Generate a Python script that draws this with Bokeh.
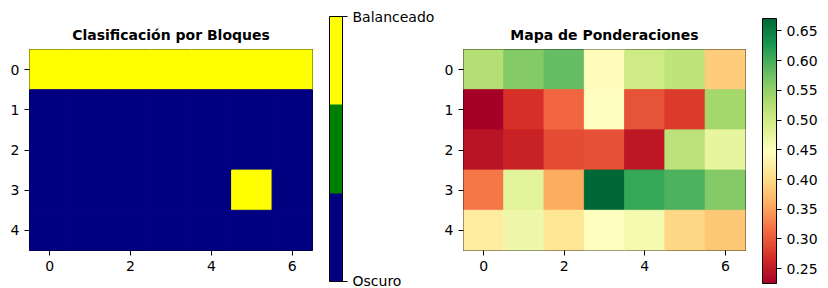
import numpy as np
from bokeh.plotting import figure
from bokeh.layouts import row
from bokeh.models import (Range1d, LinearColorMapper, FixedTicker, ColumnDataSource,
                          PrintfTickFormatter, Label, ColorBar)
from bokeh.transform import transform
from bokeh.embed import file_html
from bokeh.resources import INLINE

# ---------------- data ----------------
cols = [0, 1, 2, 3, 4, 5, 6]
rows = [0, 1, 2, 3, 4]
x_ticks = [0, 2, 4, 6]
y_ticks = [0, 1, 2, 3, 4]

block_classes = [
    [2, 2, 2, 2, 2, 2, 2],
    [0, 0, 0, 0, 0, 0, 0],
    [0, 0, 0, 0, 0, 0, 0],
    [0, 0, 0, 0, 0, 2, 0],
    [0, 0, 0, 0, 0, 0, 0],
]
class_values = [0, 1, 2]
class_colors = ["#000080", "#008000", "#ffff00"]
class_tick_values = [0, 2]
class_tick_labels = ["Oscuro", "Balanceado"]

weights = [
    [0.524, 0.560, 0.582, 0.444, 0.502, 0.515, 0.386],
    [0.225, 0.270, 0.310, 0.448, 0.296, 0.279, 0.537],
    [0.243, 0.258, 0.290, 0.294, 0.247, 0.519, 0.475],
    [0.321, 0.481, 0.359, 0.671, 0.609, 0.595, 0.560],
    [0.421, 0.466, 0.412, 0.448, 0.461, 0.397, 0.381],
]
weight_ticks = [0.25, 0.30, 0.35, 0.40, 0.45, 0.50, 0.55, 0.60, 0.65]

title_left = "Clasificación por Bloques"
title_right = "Mapa de Ponderaciones"
cbar_label = "Peso"

# RdYlGn colormap anchors (red -> yellow -> green)
rdylgn_anchors = ["#a50026", "#d73027", "#f46d43", "#fdae61", "#fee08b", "#ffffbf",
                  "#d9ef8b", "#a6d96a", "#66bd63", "#1a9850", "#006837"]


def interp_palette(anchors, n):
    rgb = np.array([[int(h[i:i + 2], 16) for i in (1, 3, 5)] for h in anchors], float)
    pos = np.linspace(0, 1, len(anchors))
    t = np.linspace(0, 1, n)
    out = []
    for tt in t:
        c = [np.interp(tt, pos, rgb[:, k]) for k in range(3)]
        out.append("#%02x%02x%02x" % tuple(int(round(v)) for v in c))
    return out


rdylgn = interp_palette(rdylgn_anchors, 256)

FONT = "DejaVu Sans"
H = 288


def style_axis(ax):
    ax.axis_line_color = None
    ax.major_tick_out = 5
    ax.major_tick_in = 0
    ax.major_tick_line_color = "black"
    ax.major_tick_line_width = 1
    ax.minor_tick_line_color = None
    ax.major_label_text_font = FONT
    ax.major_label_text_font_size = "14px"
    ax.major_label_text_color = "black"
    ax.major_label_standoff = 5


def heatmap(values, mapper, title, width, bl, br, bt, bb):
    p = figure(width=width, height=H, x_range=Range1d(-0.5, 6.5), y_range=Range1d(4.5, -0.5),
               output_backend="svg", toolbar_location=None, tools="")
    p.min_border_left = bl
    p.min_border_right = br
    p.min_border_top = bt
    p.min_border_bottom = bb
    p.grid.visible = False
    p.outline_line_color = "black"
    p.outline_line_width = 1
    p.border_fill_color = "white"
    for ax in p.axis:
        style_axis(ax)
    xs, ys, vs = [], [], []
    for r, rv in zip(rows, values):
        for c, v in zip(cols, rv):
            xs.append(c)
            ys.append(r)
            vs.append(v)
    src = ColumnDataSource(dict(x=xs, y=ys, v=vs))
    p.rect(x="x", y="y", width=1, height=1, source=src,
           fill_color=transform("v", mapper), line_color=transform("v", mapper),
           line_width=1)
    p.xaxis.ticker = FixedTicker(ticks=x_ticks)
    p.yaxis.ticker = FixedTicker(ticks=y_ticks)
    p.title.text = title
    p.title.align = "center"
    p.title.text_font = FONT
    p.title.text_font_size = "14px"
    p.title.text_font_style = "bold"
    p.title.text_color = "black"
    p.title.standoff = 13
    return p


def colorbar(mapper, ticker, loc, width, height, **kw):
    cb = ColorBar(color_mapper=mapper, ticker=ticker, location=loc,
                  width=width, height=height, padding=0, margin=0,
                  orientation="vertical",
                  bar_line_color="black", bar_line_width=1,
                  border_line_color=None, background_fill_alpha=0,
                  major_tick_out=5, major_tick_in=0,
                  major_tick_line_color="black", major_tick_line_width=1,
                  minor_tick_line_color=None, label_standoff=5,
                  major_label_text_font=FONT, major_label_text_font_size="14px",
                  major_label_text_color="black", **kw)
    return cb


# ---------------- left heatmap + colorbar ----------------
class_mapper = LinearColorMapper(palette=class_colors, low=min(class_values), high=max(class_values))
pA = heatmap(block_classes, class_mapper, title_left, 437, 29, 125, 49, 38)
cbA = colorbar(class_mapper, FixedTicker(ticks=class_tick_values), (300, -31), 13, 265,
               major_label_overrides={v: l for v, l in zip(class_tick_values, class_tick_labels)})
pA.add_layout(cbA)

# ---------------- right heatmap + colorbar ----------------
wmin = float(np.min(weights))
wmax = float(np.max(weights))
weight_mapper = LinearColorMapper(palette=rdylgn, low=wmin, high=wmax)
pC = heatmap(weights, weight_mapper, title_right, 391, 26, 83, 49, 38)
cbC = colorbar(weight_mapper, FixedTicker(ticks=weight_ticks), (299, -33), 14, 265,
               formatter=PrintfTickFormatter(format="%.2f"))
pC.add_layout(cbC)
pC.add_layout(Label(x=6.5, y=2, x_offset=69, text=cbar_label,
                    angle=np.pi / 2, text_align="center", text_baseline="top",
                    text_font=FONT, text_font_size="14px", text_color="black"))

layout = row(pA, pC)
open("out.html", "w").write(file_html(layout, INLINE))
